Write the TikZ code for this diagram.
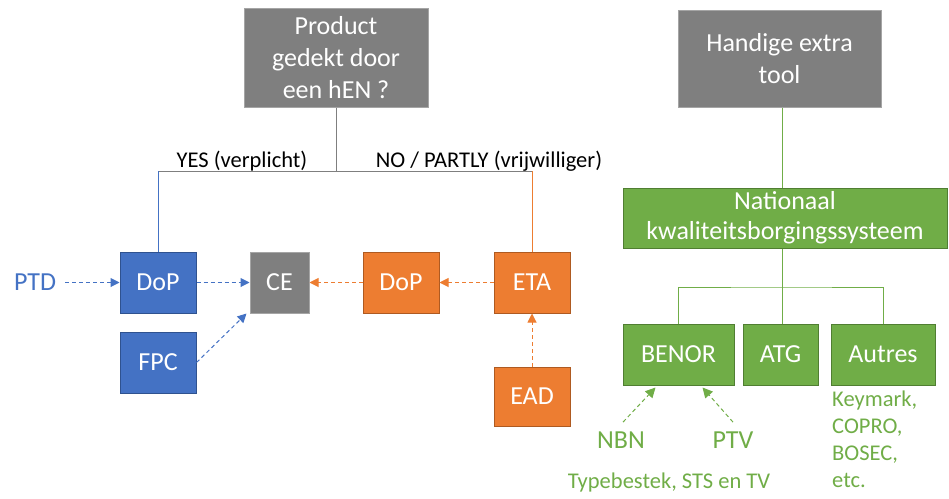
\documentclass[tikz,border=0pt]{standalone}
\usepackage{fontspec}
\setmainfont{Carlito}
\usetikzlibrary{arrows.meta}
\definecolor{hblue}{HTML}{4472C4}
\definecolor{hblueline}{HTML}{2F528F}
\definecolor{horange}{HTML}{ED7D31}
\definecolor{horangeline}{HTML}{AE5A21}
\definecolor{hgreen}{HTML}{70AD47}
\definecolor{hgreenline}{HTML}{507E32}
\definecolor{hgray}{HTML}{7F7F7F}
\definecolor{hgrayline}{HTML}{A5A5A5}
\begin{document}
\begin{tikzpicture}[x=1pt,y=-1pt,
  box/.style={draw,line width=1pt,text=white,inner sep=0pt,align=center,
    font=\fontsize{26}{32}\selectfont},
  graybox/.style={box,fill=hgray,draw=hgrayline},
  bluebox/.style={box,fill=hblue,draw=hblueline,minimum width=76pt,minimum height=61pt},
  orangebox/.style={box,fill=horange,draw=horangeline,minimum width=76pt,minimum height=61pt},
  greenbox/.style={box,fill=hgreen,draw=hgreenline,minimum height=61pt},
  biglabel/.style={inner sep=0pt,font=\fontsize{26}{32}\selectfont},
  smalllabel/.style={inner sep=0pt,font=\fontsize{22.5}{27}\selectfont},
  dasharrow/.style={line width=1pt,dash pattern=on 4pt off 3pt,
    -{Triangle[length=9pt,width=9pt]}}]
  \useasboundingbox (0,0) rectangle (949,498);
  % Question (left) and extra tool (right)
  \node[graybox,minimum width=184pt,minimum height=99pt] (product) at (336,57.5)
    {Product\\gedekt door\\een hEN ?};
  \node[graybox,minimum width=203pt,minimum height=97pt] (tool) at (779.5,58.5)
    {Handige extra\\tool};
  % hEN route (blue)
  \node[bluebox] (dopb) at (158,282.5) {DoP};
  \node[bluebox] (fpc) at (158,362.5) {FPC};
  \node[graybox,minimum width=59pt,minimum height=61pt] (ce) at (279.5,282.5) {CE};
  \node[biglabel,text=hblue,anchor=base] (ptd) at (35,290) {PTD};
  % EAD route (orange)
  \node[orangebox] (dopo) at (401,282.5) {DoP};
  \node[orangebox] (eta) at (532,282.5) {ETA};
  \node[orangebox,minimum height=59pt] (ead) at (532,396.5) {EAD};
  % Branch lines
  \coordinate (split) at (336,171);
  \draw[hgray,line width=1pt] (product) -- (split);
  \draw[hgray,line width=1pt] (split -| dopb) -- (split -| eta);
  \draw[hblue,line width=1pt] (split -| dopb) -- (dopb);
  \draw[horange,line width=1pt] (split -| eta) -- (eta);
  \node[smalllabel,anchor=base] (yes) at (242,167) {YES (verplicht)};
  \node[smalllabel,anchor=base] (no) at (489,167) {NO / PARTLY (vrijwilliger)};
  % Arrows to CE
  \draw[dasharrow,hblue,shorten <=9pt] (ptd.east |- dopb) -- (dopb);
  \draw[dasharrow,hblue] (dopb) -- (ce);
  \draw[dasharrow,hblue] (fpc.east) -- ([xshift=-3pt]ce.south west);
  \draw[dasharrow,horange] (dopo) -- (ce);
  \draw[dasharrow,horange] (eta) -- (dopo);
  \draw[dasharrow,horange] (ead) -- (eta);
  % National quality system (green)
  \node[greenbox,minimum width=324pt,minimum height=60pt,
    font=\fontsize{26}{30}\selectfont] (nat) at (785,218)
    {Nationaal\\kwaliteitsborgingssysteem};
  \node[greenbox,minimum width=111pt] (benor) at (678.5,354.5) {BENOR};
  \node[greenbox,minimum width=75pt] (atg) at (780.5,354.5) {ATG};
  \node[greenbox,minimum width=104pt] (autres) at (883,354.5) {Autres};
  \coordinate (gsplit) at (782,287);
  \draw[hgreen,line width=1pt] (tool.south -| gsplit) -- (nat.north -| gsplit);
  \draw[hgreen,line width=1pt] (nat.south -| gsplit) -- (atg.north -| gsplit);
  \draw[hgreen,line width=1pt] (benor) |- (gsplit) -| (autres);
  \node[biglabel,text=hgreen,anchor=base] (nbn) at (621,448) {NBN};
  \node[biglabel,text=hgreen,anchor=base] (ptv) at (733,448) {PTV};
  \node[smalllabel,text=hgreen,anchor=base] (typ) at (669,488) {Typebestek, STS en TV};
  \node[smalllabel,text=hgreen,anchor=north west,align=left] (autrestxt) at (832,391)
    {Keymark,\\COPRO,\\BOSEC,\\etc.};
  \draw[dasharrow,hgreen,-{Triangle[length=10pt,width=10pt]}]
    ([shift={(2,-9)}]nbn.north) -- ([shift={(-23,2)}]benor.south);
  \draw[dasharrow,hgreen,-{Triangle[length=10pt,width=10pt]}]
    ([shift={(0,-9)}]ptv.north) -- ([shift={(24,2)}]benor.south);
\end{tikzpicture}
\end{document}
